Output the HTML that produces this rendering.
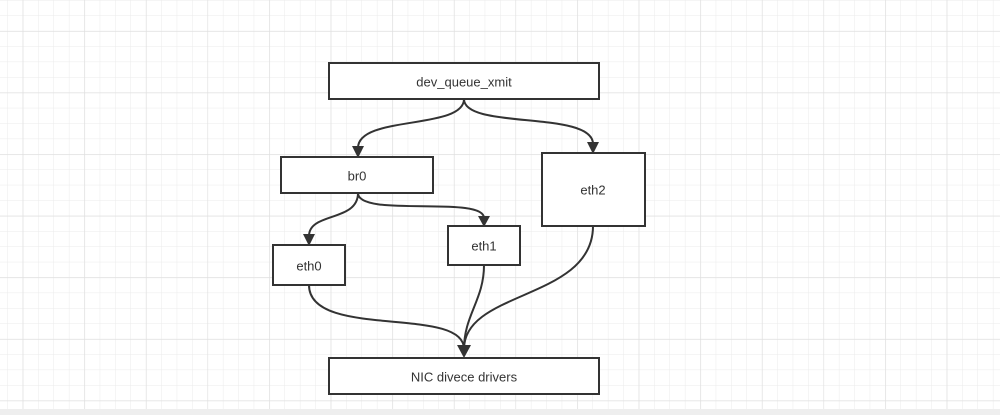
<!DOCTYPE html>
<html><head><style>
body{margin:0;width:1000px;height:415px;overflow:hidden;background:#fff;font-family:"Liberation Sans",sans-serif;}
</style></head><body>
<svg width="1000" height="415" xmlns="http://www.w3.org/2000/svg">
<defs>
<pattern id="minor" x="7.3" y="0" width="15.4" height="15.4" patternUnits="userSpaceOnUse">
<path d="M0 0V15.4M0 0H15.4" stroke="#ebebeb" stroke-width="1" fill="none"/>
</pattern>
<pattern id="major" x="22.7" y="31" width="61.6" height="61.6" patternUnits="userSpaceOnUse">
<path d="M0 0V61.6M0 0H61.6" stroke="#dedede" stroke-width="1.2" fill="none"/>
</pattern>
</defs>
<rect width="1000" height="415" fill="url(#minor)"/>
<rect width="1000" height="415" fill="url(#major)"/>
<rect x="0" y="409" width="1000" height="6" fill="#eeeeee"/>
<g fill="none" stroke="#333" stroke-width="2">
<path d="M464 99 C464 130 358 115 358 148"/>
<path d="M464 99 C464 130 593 110 593 144"/>
<path d="M358 193 C358 222 309 212 309 236"/>
<path d="M358 193 C358 218 484 195 484 218"/>
<path d="M309 285 C309 340 464 305 464 349"/>
<path d="M484 265 C484 300 464 315 464 349"/>
<path d="M593 226 C593 300 464 290 464 349"/>
</g>
<g fill="#333">
<path d="M352 146 L364 146 L358 158 Z"/>
<path d="M587 142 L599 142 L593 154 Z"/>
<path d="M303 234 L315 234 L309 246 Z"/>
<path d="M478 216 L490 216 L484 227 Z"/>
<path d="M457 345 L471 345 L464 358 Z"/>
</g>
<g fill="#fff" stroke="#333" stroke-width="2">
<rect x="329" y="63" width="270" height="36"/>
<rect x="281" y="157" width="152" height="36"/>
<rect x="542" y="153" width="103" height="73"/>
<rect x="448" y="226" width="72" height="39"/>
<rect x="273" y="245" width="72" height="40"/>
<rect x="329" y="358" width="270" height="36"/>
</g>
<g font-size="13" fill="#333" text-anchor="middle" dominant-baseline="central">
<text x="464" y="82">dev_queue_xmit</text>
<text x="357" y="176">br0</text>
<text x="593" y="190">eth2</text>
<text x="484" y="246">eth1</text>
<text x="309" y="266">eth0</text>
<text x="464" y="377">NIC divece drivers</text>
</g>
</svg>
</body></html>
